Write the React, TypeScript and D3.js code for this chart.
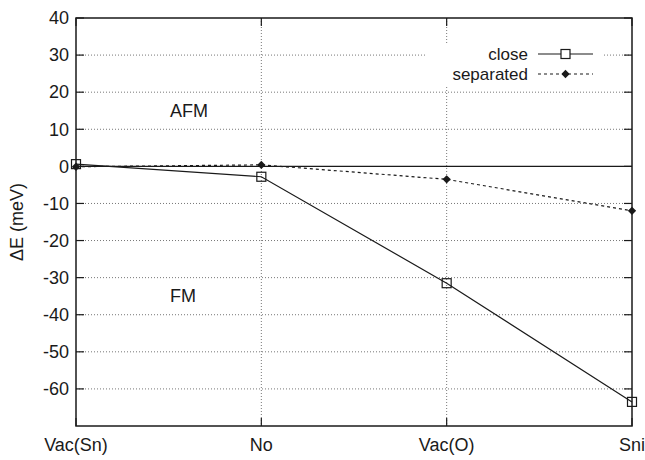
import React, { useEffect, useRef } from 'react'
import * as d3 from 'd3'

const categories = ['Vac(Sn)', 'No', 'Vac(O)', 'Sni']
const closeValues = [0.6, -2.8, -31.5, -63.5]
const separatedValues = [-0.1, 0.4, -3.5, -12]
const yTicks = [40, 30, 20, 10, 0, -10, -20, -30, -40, -50, -60]

const W = 645
const H = 460
const margin = { left: 76, right: 13, top: 18, bottom: 34 }
const font = '"Liberation Sans", Arial, sans-serif'
const fontSize = 18
const ink = '#1a1a1a'

const App = () => {
  const ref = useRef(null)

  useEffect(() => {
    const svg = d3.select(ref.current)
    svg.selectAll('*').remove()

    const x = d3
      .scaleLinear()
      .domain([0, categories.length - 1])
      .range([margin.left, W - margin.right])
    const y = d3.scaleLinear().domain([-70, 40]).range([H - margin.bottom, margin.top])

    const x0 = x(0)
    const x1 = x(categories.length - 1)
    const y0 = y(-70)
    const y1 = y(40)

    // grid
    const grid = svg.append('g')
    grid
      .selectAll('.hg')
      .data(yTicks.filter((d) => d !== 0 && d !== 40))
      .enter()
      .append('line')
      .attr('x1', x0)
      .attr('x2', x1)
      .attr('y1', (d) => y(d))
      .attr('y2', (d) => y(d))
      .attr('stroke', '#777')
      .attr('stroke-width', 1)
      .attr('stroke-dasharray', '1,2')
    grid
      .selectAll('.vg')
      .data([1, 2])
      .enter()
      .append('line')
      .attr('x1', (d) => x(d))
      .attr('x2', (d) => x(d))
      .attr('y1', y1)
      .attr('y2', y0)
      .attr('stroke', '#777')
      .attr('stroke-width', 1)
      .attr('stroke-dasharray', '1,2')

    // zero axis
    svg
      .append('line')
      .attr('x1', x0)
      .attr('x2', x1)
      .attr('y1', y(0))
      .attr('y2', y(0))
      .attr('stroke', ink)
      .attr('stroke-width', 1.4)

    // tick marks (inward, mirrored)
    const ticks = svg.append('g').attr('stroke', ink).attr('stroke-width', 1.2)
    yTicks.forEach((t) => {
      ticks.append('line').attr('x1', x0).attr('x2', x0 + 8).attr('y1', y(t)).attr('y2', y(t))
      ticks.append('line').attr('x1', x1).attr('x2', x1 - 8).attr('y1', y(t)).attr('y2', y(t))
    })
    categories.forEach((c, i) => {
      ticks.append('line').attr('x1', x(i)).attr('x2', x(i)).attr('y1', y0).attr('y2', y0 - 8)
      ticks.append('line').attr('x1', x(i)).attr('x2', x(i)).attr('y1', y1).attr('y2', y1 + 8)
    })

    // labels
    svg
      .append('g')
      .selectAll('text')
      .data(yTicks)
      .enter()
      .append('text')
      .attr('x', x0 - 7)
      .attr('y', (d) => y(d))
      .attr('dy', '0.35em')
      .attr('text-anchor', 'end')
      .attr('font-family', font)
      .attr('font-size', fontSize)
      .attr('fill', ink)
      .text((d) => d)
    svg
      .append('g')
      .selectAll('text')
      .data(categories)
      .enter()
      .append('text')
      .attr('x', (d, i) => x(i))
      .attr('y', y0 + 25)
      .attr('text-anchor', 'middle')
      .attr('font-family', font)
      .attr('font-size', fontSize)
      .attr('fill', ink)
      .text((d) => d)

    svg
      .append('text')
      .attr('transform', `translate(23,${(y0 + y1) / 2}) rotate(-90)`)
      .attr('text-anchor', 'middle')
      .attr('font-family', font)
      .attr('font-size', fontSize)
      .attr('fill', ink)
      .text('ΔE (meV)')

    svg
      .append('text')
      .attr('x', 189)
      .attr('y', y(15))
      .attr('dy', '0.35em')
      .attr('text-anchor', 'middle')
      .attr('font-family', font)
      .attr('font-size', fontSize)
      .attr('fill', ink)
      .text('AFM')
    svg
      .append('text')
      .attr('x', 183)
      .attr('y', y(-35))
      .attr('dy', '0.35em')
      .attr('text-anchor', 'middle')
      .attr('font-family', font)
      .attr('font-size', fontSize)
      .attr('fill', ink)
      .text('FM')

    // legend background
    svg
      .append('rect')
      .attr('x', 425)
      .attr('y', 45)
      .attr('width', 178)
      .attr('height', 42)
      .attr('fill', 'white')

    // series
    const line = d3
      .line<number>()
      .x((d, i) => x(i))
      .y((d) => y(d))

    svg
      .append('path')
      .datum(separatedValues)
      .attr('d', line)
      .attr('fill', 'none')
      .attr('stroke', ink)
      .attr('stroke-width', 1.2)
      .attr('stroke-dasharray', '3,3')
    svg
      .append('path')
      .datum(closeValues)
      .attr('d', line)
      .attr('fill', 'none')
      .attr('stroke', ink)
      .attr('stroke-width', 1.2)

    const diamond = d3.symbol().type(d3.symbolDiamond2).size(44)
    svg
      .append('g')
      .selectAll('path')
      .data(separatedValues)
      .enter()
      .append('path')
      .attr('transform', (d, i) => `translate(${x(i)},${y(d)})`)
      .attr('d', diamond)
      .attr('fill', ink)
    svg
      .append('g')
      .selectAll('rect')
      .data(closeValues)
      .enter()
      .append('rect')
      .attr('x', (d, i) => x(i) - 4.5)
      .attr('y', (d) => y(d) - 4.5)
      .attr('width', 9)
      .attr('height', 9)
      .attr('fill', 'none')
      .attr('stroke', ink)
      .attr('stroke-width', 1.2)

    // legend
    const legend = [
      { name: 'close', dash: null, y: 54 },
      { name: 'separated', dash: '3,3', y: 74 },
    ]
    legend.forEach((l) => {
      svg
        .append('text')
        .attr('x', 528)
        .attr('y', l.y)
        .attr('dy', '0.35em')
        .attr('text-anchor', 'end')
        .attr('font-family', font)
        .attr('font-size', 17)
        .attr('fill', ink)
        .text(l.name)
      svg
        .append('line')
        .attr('x1', 538)
        .attr('x2', 593)
        .attr('y1', l.y)
        .attr('y2', l.y)
        .attr('stroke', ink)
        .attr('stroke-width', 1.2)
        .attr('stroke-dasharray', l.dash)
    })
    svg
      .append('rect')
      .attr('x', 565.5 - 4.5)
      .attr('y', 54 - 4.5)
      .attr('width', 9)
      .attr('height', 9)
      .attr('fill', 'white')
      .attr('stroke', ink)
      .attr('stroke-width', 1.2)
    svg
      .append('path')
      .attr('transform', 'translate(565.5,74)')
      .attr('d', diamond)
      .attr('fill', ink)

    // frame
    svg
      .append('rect')
      .attr('x', x0)
      .attr('y', y1)
      .attr('width', x1 - x0)
      .attr('height', y0 - y1)
      .attr('fill', 'none')
      .attr('stroke', ink)
      .attr('stroke-width', 1.5)
  }, [])

  return (
    <svg
      ref={ref}
      width={W}
      height={H}
      style={{ position: 'absolute', left: 0, top: 0, background: 'white' }}
    ></svg>
  )
}

export default App
